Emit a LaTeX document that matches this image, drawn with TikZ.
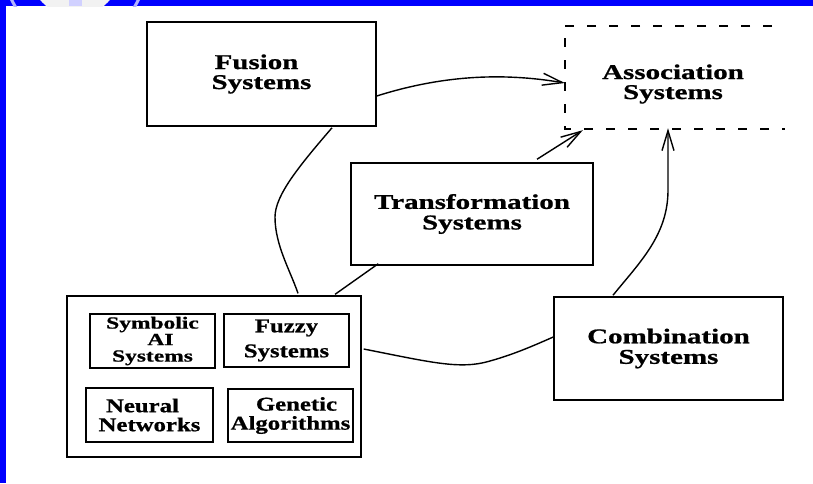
\documentclass[tikz,border=0pt]{standalone}
\usepackage{fontspec}
\setmainfont{Liberation Serif}
\newfontfamily\outerfont[FakeStretch=1.38,FakeBold=0.9]{Liberation Serif}
\newfontfamily\innerfont[FakeStretch=1.27,FakeBold=0.8]{Liberation Serif}
\newfontfamily\symfont[FakeStretch=1.38,FakeBold=0.8]{Liberation Serif}
\usetikzlibrary{arrows.meta,calc}
\begin{document}
\begin{tikzpicture}[x=1pt,y=-1pt,
  box/.style={draw=black,line width=1.5pt,rectangle,inner sep=0pt,align=center,
    font=\outerfont\bfseries\fontsize{21}{20.5}\selectfont},
  smallbox/.style={draw=black,line width=1.3pt,rectangle,inner sep=0pt,align=center,
    font=\innerfont\bfseries\fontsize{19.5}{19}\selectfont},
  conn/.style={draw=black,line width=1.4pt},
  arr/.style={conn,-{Straight Barb[length=20pt,width=12pt]}}]
\useasboundingbox (0,0) rectangle (813,483);
% slide frame
\fill[white] (0,0) rectangle (813,483);
\fill[blue] (0,0) rectangle (813,6);
\fill[blue] (0,0) rectangle (6,483);
\begin{scope}
  \clip (0,0) rectangle (150,6);
  \fill[gray!10] (75,-30) circle[radius=46];
  \fill[blue!18] (69,0) rectangle (82,6);
  \draw[blue!30!white,line width=3pt] (75,-30) circle[radius=70];
\end{scope}
% boxes
\node[box,minimum width=229pt,minimum height=104pt,font=\outerfont\bfseries\fontsize{21}{20}\selectfont] (fusion) at (261.5,74) {Fusion\hspace*{10pt}\\Systems};
\node[rectangle,inner sep=0pt,minimum width=220pt,minimum height=103pt] (assoc) at (675,77.5) {};
\node[font=\outerfont\bfseries\fontsize{21}{20}\selectfont,align=center,inner sep=0pt] (assoclabel) at (673,84) {Association\\Systems};
\draw[line width=1.5pt,dash pattern=on 9pt off 13pt]
  ([xshift=-13pt]assoc.north east) -- (assoc.north west) -- (assoc.south west) -- (assoc.south east);
\node[box,minimum width=242pt,minimum height=102pt] (trans) at (472,214) {Transformation\\Systems};
\node[box,minimum width=229pt,minimum height=103pt] (comb) at (668.5,348.5) {Combination\\Systems};
\node[draw=black,line width=1.3pt,rectangle,minimum width=294pt,minimum height=161pt] (ai) at (214,376.5) {};
\node[smallbox,minimum width=125pt,minimum height=54pt,font=\symfont\bfseries\fontsize{17}{16.5}\selectfont] (sym) at (152.5,341) {Symbolic\\\hspace*{16pt}AI\\Systems};
\node[smallbox,minimum width=125pt,minimum height=53pt,font=\innerfont\bfseries\fontsize{19.5}{25}\selectfont] (fuzzy) at (286.5,340.5) {Fuzzy\\Systems};
\node[smallbox,minimum width=127pt,minimum height=54pt] (neural) at (149.5,415) {Neural\hspace*{14pt}\\Networks};
\node[smallbox,minimum width=125pt,minimum height=53pt,font=\innerfont\bfseries\fontsize{19.5}{19}\selectfont] (genetic) at (290.5,415.5) {\hspace*{12pt}Genetic\\Algorithms};
% connectors
\draw[arr] ($(fusion.east)+(0,22)$) .. controls (440,76) and (500,72) .. ($(assoc.west)+(0,5.5)$);
\draw[arr] ($(trans.north)+(65,-3)$) -- ($(assoc.south west)+(18,1)$);
\draw[arr] ($(comb.north)+(-55.5,-1)$) .. controls (640,262) and (668,235) .. (668,190) -- ($(assoc.south)+(-7,-1)$);
\draw[conn] ($(fusion.south)+(70.5,1)$) .. controls (300,165) and (275,195) .. (275,217)
  .. controls (275,245) and (290,270) .. ($(ai.north)+(84,-2)$);
\draw[conn] ($(trans.south west)+(28,-2)$) -- ($(ai.north)+(121,-1)$);
\draw[conn] ($(ai.east)+(2,-27.5)$) .. controls (430,362) and (460,370) .. (490,361)
  .. controls (515,354) and (535,345) .. ($(comb.west)+(0,-11.5)$);
\end{tikzpicture}
\end{document}
